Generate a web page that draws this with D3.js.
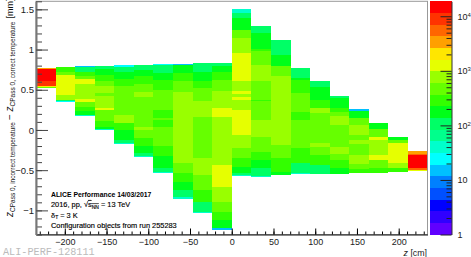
<!DOCTYPE html>
<html>
<head>
<meta charset="utf-8">
<script src="https://cdn.jsdelivr.net/npm/d3@7"></script>
<style>
  html, body { margin: 0; padding: 0; background: #fff; }
  svg { display: block; }
  text { font-family: "Liberation Sans", sans-serif; }
</style>
</head>
<body>
<div id="chart-area"></div>
<script>
// z bins edges [cm]
const zEdges = [-234.5, -211, -187.6, -164.2, -140.7, -117.3, -93.8, -70.4, -46.9, -23.5, 0,
    23.5, 46.9, 70.4, 93.8, 117.3, 140.7, 164.2, 187.6, 211, 234.5];

// upper edge of each z column [mm]
const dzTop = [0.771, 0.782, 0.798, 0.798, 0.811, 0.811, 0.823, 0.823, 0.832, 0.836,
    1.507, 1.287, 1.113, 0.773, 0.603, 0.425, 0.263, 0.089, -0.085, -0.259];

// every column going down: [lower edge of the cell in mm, counts]
const dzCells = [
    [[0.755,3300],[0.603,14700],[0.549,9000],[0.533,2000],[0.516,470]],
    [[0.727,287],[0.686,470],[0.437,1260],[0.375,770],[0.354,107],[0.342,24]],
    [[0.782,15],[0.727,107],[0.674,287],[0.633,470],[0.574,1260],[0.384,770],[0.342,1260],[0.285,470],[0.230,287],[0.189,175],[0.176,40]],
    [[0.757,107],[0.686,175],[0.603,287],[0.541,470],[0.459,770],[0.425,470],[0.272,770],[0.251,1260],[0.106,470],[0.043,287],[0.011,175],[-0.001,40]],
    [[0.782,24],[0.727,107],[0.633,175],[0.541,287],[0.189,470],[0.086,770],[-0.006,287],[-0.122,175],[-0.163,107],[-0.176,40]],
    [[0.748,107],[0.665,175],[0.574,287],[0.466,470],[0.416,770],[0.043,470],[-0.006,770],[-0.101,470],[-0.197,287],[-0.284,175],[-0.327,107],[-0.337,40]],
    [[0.814,24],[0.707,107],[0.624,175],[0.491,287],[0.251,470],[0.147,287],[0.126,470],[0.043,287],[-0.197,470],[-0.330,287],[-0.474,175],[-0.517,107],[-0.530,40]],
    [[0.814,15],[0.707,175],[0.603,287],[0.471,470],[-0.412,770],[-0.537,470],[-0.645,287],[-0.744,175],[-0.831,107],[-0.862,40]],
    [[0.727,107],[0.603,175],[0.521,287],[0.354,470],[0.160,770],[-0.346,470],[-0.557,770],[-0.744,470],[-0.893,287],[-1.017,107],[-1.030,40]],
    [[0.798,107],[0.727,175],[0.624,287],[0.479,470],[0.272,770],[0.160,1260],[-0.433,770],[-0.706,1260],[-0.893,770],[-1.017,470],[-1.117,287],[-1.217,175],[-1.242,15]],
    [[1.453,40],[1.391,107],[1.246,175],[1.143,470],[0.956,770],[0.935,1260],[0.603,1260],[0.479,770],[0.450,1260],[0.404,770],[0.375,1260],[0.251,770],[-0.060,1260],[-0.222,770],[-0.346,470],[-0.458,287],[-0.532,175],[-0.557,107],[-0.570,40]],
    [[1.205,107],[1.006,175],[0.976,287],[0.810,470],[0.603,770],[0.375,470],[0.363,287],[0.118,470],[-0.089,770],[-0.268,470],[-0.371,287],[-0.470,175],[-0.570,107],[-0.582,40]],
    [[0.935,107],[0.798,175],[0.674,470],[-0.184,770],[-0.346,470],[-0.520,287],[-0.557,175],[-0.563,107]],
    [[0.765,15],[0.645,107],[0.624,175],[0.459,287],[0.226,470],[0.126,287],[-0.222,470],[-0.408,287],[-0.532,107],[-0.545,40]],
    [[0.533,107],[0.375,175],[0.272,287],[0.210,770],[-0.168,470],[-0.209,770],[-0.312,470],[-0.437,287],[-0.542,107],[-0.552,40]],
    [[0.396,107],[0.272,175],[0.226,287],[0.176,470],[0.064,770],[-0.209,470],[-0.293,770],[-0.375,470],[-0.479,287],[-0.542,175],[-0.549,40]],
    [[0.242,15],[0.147,175],[0.064,470],[-0.060,770],[-0.122,470],[-0.172,770],[-0.309,470],[-0.421,770],[-0.483,470],[-0.533,287]],
    [[0.011,175],[-0.082,470],[-0.122,1260],[-0.309,770],[-0.375,1260],[-0.479,470],[-0.529,287]],
    [[-0.126,175],[-0.168,470],[-0.417,1260],[-0.479,770],[-0.520,287]],
    [[-0.293,3300],[-0.315,5500],[-0.479,14700],[-0.499,5500],[-0.514,1260]]
];

// palette from low to high, 20 bands like in the colz bar
const paletteBands = ["#6000ff","#3000ff","#0000ff","#0050ff","#0080ff","#00c0ff","#00ffff","#00ffcc","#00ff8c","#00ff66",
    "#00ff19","#33ff00","#66ff00","#99ff00","#e6ff00","#ffe600","#ffa000","#ff6600","#ff3300","#ff0000"];

const zTicks = [-200, -150, -100, -50, 0, 50, 100, 150, 200];
const dzTicks = [-1, -0.5, 0, 0.5, 1, 1.5];
const countTicks = [1, 10, 100, 1000, 10000];

const countMax = 18800;

const svg = d3.select("#chart-area")
    .append("svg")
    .attr("width", 471)
    .attr("height", 257);

const x = d3.scaleLinear().domain([-234.5, 234.5]).range([36, 427.5]);
const y = d3.scaleLinear().domain([-1.3, 1.6]).range([234.5, 1.3]);
const yZ = d3.scaleLog().domain([1, countMax]).range([234.5, 1.3]);

// same colour bands for the cells and for the bar
const color = d3.scaleQuantize()
    .domain([0, Math.log10(countMax)])
    .range(paletteBands);

// histogram cells, shape-rendering crispEdges to avoid seams between them
zEdges.slice(0, -1).forEach(function (z0, i) {
    let upper = dzTop[i];
    dzCells[i].forEach(function (cell) {
        svg.append("rect")
            .attr("x", x(z0))
            .attr("width", x(zEdges[i + 1]) - x(z0))
            .attr("y", y(upper))
            .attr("height", y(cell[0]) - y(upper))
            .attr("fill", color(Math.log10(cell[1])))
            .attr("shape-rendering", "crispEdges");
        upper = cell[0];
    });
});

// frame
svg.append("rect")
    .attr("x", x.range()[0]).attr("y", y.range()[1])
    .attr("width", x.range()[1] - x.range()[0])
    .attr("height", y.range()[0] - y.range()[1])
    .attr("fill", "none").attr("stroke", "#999").attr("stroke-width", 1);

// x axis
const minorZ = d3.range(-230, 231, 10);
svg.append("g")
    .attr("transform", "translate(0," + y.range()[0] + ")")
    .call(d3.axisBottom(x).tickValues(minorZ).tickSize(-3).tickFormat(""))
    .call(g => g.select(".domain").remove());
svg.append("g")
    .attr("transform", "translate(0," + y.range()[0] + ")")
    .call(d3.axisBottom(x).tickValues(zTicks).tickSize(-6).tickPadding(4).tickSizeOuter(0)
        .tickFormat(d => String(d).replace("-", "\u2212")))
    .call(g => g.select(".domain").attr("stroke", "#111").attr("stroke-width", 1))
    .call(g => g.selectAll("text").attr("font-size", 9).attr("fill", "#222")
        .style("font-family", "'Liberation Sans', sans-serif"));

// y axis
const minorDz = d3.range(-1.3, 1.6001, 0.1);
svg.append("g")
    .attr("transform", "translate(" + x.range()[0] + ",0)")
    .call(d3.axisLeft(y).tickValues(minorDz).tickSize(-6).tickFormat(""))
    .call(g => g.select(".domain").remove())
    .call(g => g.selectAll("line").attr("stroke", "#444"));
svg.append("g")
    .attr("transform", "translate(" + x.range()[0] + ",0)")
    .call(d3.axisLeft(y).tickValues(dzTicks).tickSize(-12).tickPadding(2).tickSizeOuter(0)
        .tickFormat(d => String(d).replace("-", "\u2212")))
    .call(g => g.select(".domain").attr("stroke", "#777").attr("stroke-width", 2))
    .call(g => g.selectAll("line").attr("stroke", "#444"))
    .call(g => g.selectAll("text").attr("font-size", 9.5).attr("fill", "#222")
        .style("font-family", "'Liberation Sans', sans-serif"));

// y title
const yTitle = svg.append("text")
    .attr("transform", "translate(13,217) rotate(-90)")
    .attr("font-size", 10)
    .attr("fill", "#111");
yTitle.append("tspan").attr("font-style", "italic").text("z");
yTitle.append("tspan").attr("font-size", 6.5).attr("dy", 2).text("CPass 0, incorrect temperature");
yTitle.append("tspan").attr("dy", -2).attr("dx", 2).text("\u2212 ");
yTitle.append("tspan").attr("font-style", "italic").text("z");
yTitle.append("tspan").attr("font-size", 6.5).attr("dy", 2).text("CPass 0, correct temperature");
yTitle.append("tspan").attr("dy", -2).attr("dx", 3).attr("font-size", 9).text("[mm]");

// x title
const xTitle = svg.append("text")
    .attr("x", 427).attr("y", 255.5)
    .attr("text-anchor", "end")
    .attr("font-size", 8.8)
    .attr("fill", "#222");
xTitle.append("tspan").attr("font-style", "italic").text("z");
xTitle.append("tspan").text(" [cm]");

// colour bar
const step = (Math.log10(countMax)) / paletteBands.length;
paletteBands.forEach(function (c, i) {
    svg.append("rect")
        .attr("x", 429.5)
        .attr("width", 22)
        .attr("y", yZ(Math.pow(10, (i + 1) * step)))
        .attr("height", yZ(Math.pow(10, i * step)) - yZ(Math.pow(10, (i + 1) * step)))
        .attr("fill", c)
        .attr("shape-rendering", "crispEdges");
});
const minorCounts = d3.range(0, 4).flatMap(e => d3.range(2, 10).map(m => m * Math.pow(10, e))).filter(v => v < countMax);
svg.append("g")
    .attr("transform", "translate(451.5,0)")
    .call(d3.axisRight(yZ).tickValues(minorCounts).tickSize(-5).tickFormat(""))
    .call(g => g.select(".domain").remove())
    .call(g => g.selectAll("line").attr("stroke", "#222"));
const barAxis = svg.append("g")
    .attr("transform", "translate(451.5,0)")
    .call(d3.axisRight(yZ).tickValues(countTicks).tickSize(-11).tickPadding(6).tickSizeOuter(0).tickFormat(""))
    .call(g => g.select(".domain").attr("stroke", "#333"))
    .call(g => g.selectAll("line").attr("stroke", "#222"));
barAxis.selectAll(".tick text").each(function (d) {
    const t = d3.select(this).attr("font-size", 9).attr("fill", "#222")
        .style("font-family", "'Liberation Sans', sans-serif");
    const e = Math.round(Math.log10(d));
    if (e === 0) { t.text("1"); return; }
    t.append("tspan").text("10");
    if (e > 1) t.append("tspan").attr("font-size", 6).attr("dy", -3).text(e);
});

// annotation
const noteX = 51;
svg.append("text").attr("x", noteX).attr("y", 196.5).attr("font-size", 6.85).attr("fill", "#000").attr("font-weight", 700)
    .text("ALICE Performance 14/03/2017");
const note2 = svg.append("text").attr("x", noteX).attr("y", 207).attr("font-size", 7.4).attr("fill", "#000").attr("stroke", "#000").attr("stroke-width", 0.15);
note2.append("tspan").text("2016, pp, \u221A");
note2.append("tspan").attr("text-decoration", "overline").text("s");
note2.append("tspan").attr("font-size", 5).attr("dy", 1.5).attr("text-decoration", "overline").text("NN");
note2.append("tspan").attr("dy", -1.5).text(" = 13 TeV");
const note3 = svg.append("text").attr("x", noteX).attr("y", 217.5).attr("font-size", 7.4).attr("fill", "#000").attr("stroke", "#000").attr("stroke-width", 0.15);
note3.append("tspan").text("\u03B4");
note3.append("tspan").attr("font-size", 5).attr("dy", 1.5).text("T");
note3.append("tspan").attr("dy", -1.5).text(" = 3 K");
svg.append("text").attr("x", noteX).attr("y", 228).attr("font-size", 7.4).attr("fill", "#000").attr("stroke", "#000").attr("stroke-width", 0.15)
    .text("Configuration objects from run 255283");

// preliminary tag
svg.append("text")
    .attr("x", 3).attr("y", 254.5)
    .attr("font-size", 10.2)
    .attr("fill", "#bbb")
    .style("font-family", "'Liberation Mono', monospace")
    .text("ALI-PERF-128111");
</script>
</body>
</html>
